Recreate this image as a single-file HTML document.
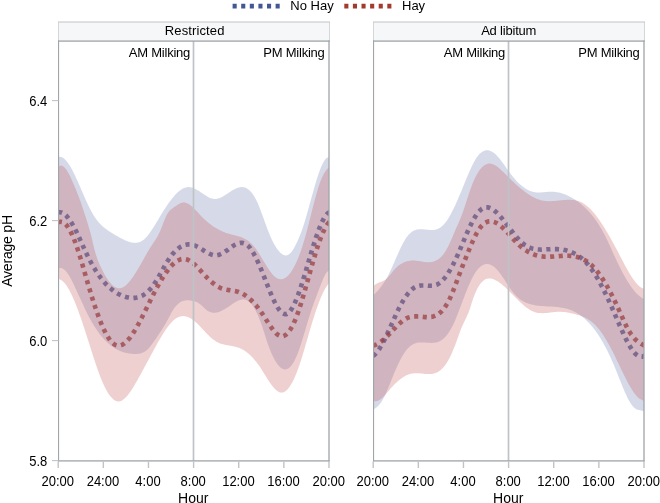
<!DOCTYPE html>
<html><head><meta charset="utf-8"><title>Average pH by Hour</title>
<style>
html,body{margin:0;padding:0;background:#fff;}
body{width:660px;height:503px;overflow:hidden;}
svg{display:block;}
text{font-family:"Liberation Sans",sans-serif;fill:#000;}
.t13{font-size:13px;}
.t14{font-size:14px;}
.ttl{letter-spacing:0.12px;}
.mk{letter-spacing:-0.23px;}
.ax{letter-spacing:-0.2px;}
</style></head><body>
<svg width="660" height="503" viewBox="0 0 660 503">
<defs><filter id="soft" x="-5%" y="-5%" width="110%" height="110%"><feGaussianBlur stdDeviation="0.6"/></filter></defs>
<rect width="660" height="503" fill="#fff"/>
<clipPath id="cl"><rect x="58.5" y="41.0" width="270.5" height="420.0"/></clipPath>
<g clip-path="url(#cl)">
<g filter="url(#soft)">
<path d="M58.0,212.5 59.0,212.3 60.0,212.3 61.0,212.4 62.0,212.7 63.0,213.2 64.0,213.8 65.0,214.6 66.0,215.5 67.0,216.6 68.0,217.7 69.0,219.0 70.0,220.4 71.0,221.9 72.0,223.6 73.0,225.3 74.0,227.1 75.0,229.0 76.0,230.9 77.0,233.0 78.0,235.1 79.0,237.2 80.0,239.4 81.0,241.6 82.0,243.8 83.0,246.1 84.0,248.3 85.0,250.5 86.0,252.6 87.0,254.7 88.0,256.7 89.0,258.7 90.0,260.6 91.0,262.5 92.0,264.3 93.0,266.1 94.0,267.8 95.0,269.4 96.0,271.0 97.0,272.5 98.0,274.0 99.0,275.4 100.0,276.8 101.0,278.2 102.0,279.4 103.0,280.7 104.0,281.8 105.0,283.0 106.0,284.1 107.0,285.1 108.0,286.1 109.0,287.1 110.0,288.0 111.0,288.8 112.0,289.6 113.0,290.4 114.0,291.2 115.0,291.9 116.0,292.5 117.0,293.1 118.0,293.7 119.0,294.2 120.0,294.7 121.0,295.2 122.0,295.6 123.0,296.0 124.0,296.4 125.0,296.7 126.0,297.0 127.0,297.2 128.0,297.4 129.0,297.6 130.0,297.8 131.0,297.9 132.0,297.9 133.0,298.0 134.0,297.9 135.0,297.9 136.0,297.7 137.0,297.5 138.0,297.3 139.0,297.0 140.0,296.7 141.0,296.2 142.0,295.8 143.0,295.2 144.0,294.6 145.0,293.9 146.0,293.2 147.0,292.4 148.0,291.5 149.0,290.5 150.0,289.4 151.0,288.3 152.0,287.1 153.0,285.8 154.0,284.4 155.0,282.9 156.0,281.3 157.0,279.7 158.0,278.0 159.0,276.2 160.0,274.4 161.0,272.6 162.0,270.8 163.0,269.0 164.0,267.2 165.0,265.4 166.0,263.7 167.0,262.0 168.0,260.4 169.0,258.9 170.0,257.5 171.0,256.1 172.0,254.8 173.0,253.6 174.0,252.5 175.0,251.4 176.0,250.4 177.0,249.5 178.0,248.7 179.0,247.9 180.0,247.3 181.0,246.6 182.0,246.1 183.0,245.6 184.0,245.3 185.0,244.9 186.0,244.7 187.0,244.5 188.0,244.4 189.0,244.4 190.0,244.4 191.0,244.5 192.0,244.7 193.0,244.9 194.0,245.2 195.0,245.6 196.0,246.0 197.0,246.5 198.0,247.0 199.0,247.6 200.0,248.2 201.0,248.8 202.0,249.4 203.0,250.0 204.0,250.7 205.0,251.3 206.0,251.9 207.0,252.5 208.0,253.0 209.0,253.5 210.0,254.0 211.0,254.4 212.0,254.7 213.0,255.0 214.0,255.2 215.0,255.3 216.0,255.3 217.0,255.3 218.0,255.1 219.0,254.8 220.0,254.4 221.0,254.0 222.0,253.5 223.0,252.9 224.0,252.3 225.0,251.7 226.0,251.0 227.0,250.3 228.0,249.6 229.0,248.8 230.0,248.1 231.0,247.4 232.0,246.7 233.0,246.0 234.0,245.4 235.0,244.8 236.0,244.3 237.0,243.8 238.0,243.5 239.0,243.2 240.0,243.0 241.0,242.9 242.0,242.9 243.0,243.0 244.0,243.3 245.0,243.6 246.0,244.2 247.0,244.9 248.0,245.7 249.0,246.8 250.0,247.9 251.0,249.3 252.0,250.7 253.0,252.4 254.0,254.1 255.0,256.0 256.0,257.9 257.0,260.0 258.0,262.1 259.0,264.4 260.0,266.7 261.0,269.1 262.0,271.5 263.0,274.0 264.0,276.6 265.0,279.1 266.0,281.7 267.0,284.2 268.0,286.7 269.0,289.2 270.0,291.7 271.0,294.0 272.0,296.4 273.0,298.6 274.0,300.7 275.0,302.8 276.0,304.7 277.0,306.4 278.0,308.0 279.0,309.5 280.0,310.8 281.0,311.9 282.0,312.8 283.0,313.5 284.0,313.9 285.0,314.1 286.0,314.1 287.0,313.8 288.0,313.2 289.0,312.4 290.0,311.3 291.0,309.9 292.0,308.4 293.0,306.6 294.0,304.7 295.0,302.5 296.0,300.2 297.0,297.7 298.0,295.1 299.0,292.3 300.0,289.4 301.0,286.4 302.0,283.3 303.0,280.2 304.0,276.9 305.0,273.6 306.0,270.3 307.0,266.9 308.0,263.6 309.0,260.2 310.0,256.8 311.0,253.5 312.0,250.2 313.0,246.9 314.0,243.7 315.0,240.6 316.0,237.6 317.0,234.7 318.0,231.9 319.0,229.2 320.0,226.7 321.0,224.3 322.0,222.1 323.0,220.1 324.0,218.2 325.0,216.6 326.0,215.2 327.0,214.0 328.0,213.1 329.0,212.5 330.0,212.1" fill="none" stroke="#445694" stroke-opacity="0.75" stroke-width="4.6" stroke-dasharray="4.1 4.5" stroke-dashoffset="0"/>
<path d="M58.0,222.5 59.0,222.0 60.0,221.8 61.0,221.7 62.0,221.9 63.0,222.3 64.0,222.9 65.0,223.7 66.0,224.7 67.0,225.8 68.0,227.2 69.0,228.8 70.0,230.5 71.0,232.4 72.0,234.5 73.0,236.8 74.0,239.2 75.0,241.7 76.0,244.4 77.0,247.3 78.0,250.2 79.0,253.3 80.0,256.6 81.0,259.9 82.0,263.2 83.0,266.7 84.0,270.1 85.0,273.6 86.0,277.1 87.0,280.6 88.0,284.0 89.0,287.4 90.0,290.7 91.0,294.0 92.0,297.2 93.0,300.4 94.0,303.5 95.0,306.5 96.0,309.5 97.0,312.3 98.0,315.1 99.0,317.8 100.0,320.4 101.0,322.9 102.0,325.2 103.0,327.5 104.0,329.7 105.0,331.7 106.0,333.7 107.0,335.4 108.0,337.1 109.0,338.6 110.0,340.0 111.0,341.3 112.0,342.4 113.0,343.3 114.0,344.1 115.0,344.7 116.0,345.2 117.0,345.5 118.0,345.6 119.0,345.6 120.0,345.5 121.0,345.2 122.0,344.8 123.0,344.3 124.0,343.7 125.0,342.9 126.0,342.0 127.0,341.1 128.0,340.0 129.0,338.8 130.0,337.6 131.0,336.2 132.0,334.8 133.0,333.3 134.0,331.7 135.0,330.1 136.0,328.4 137.0,326.6 138.0,324.8 139.0,323.0 140.0,321.1 141.0,319.2 142.0,317.2 143.0,315.2 144.0,313.2 145.0,311.2 146.0,309.2 147.0,307.2 148.0,305.1 149.0,303.1 150.0,301.1 151.0,299.1 152.0,297.1 153.0,295.1 154.0,293.2 155.0,291.3 156.0,289.4 157.0,287.5 158.0,285.7 159.0,283.9 160.0,282.2 161.0,280.5 162.0,278.8 163.0,277.2 164.0,275.6 165.0,274.1 166.0,272.6 167.0,271.3 168.0,269.9 169.0,268.6 170.0,267.4 171.0,266.3 172.0,265.2 173.0,264.2 174.0,263.3 175.0,262.5 176.0,261.7 177.0,261.0 178.0,260.5 179.0,260.0 180.0,259.6 181.0,259.2 182.0,259.0 183.0,258.9 184.0,258.9 185.0,259.0 186.0,259.2 187.0,259.5 188.0,259.9 189.0,260.4 190.0,261.0 191.0,261.7 192.0,262.4 193.0,263.2 194.0,264.0 195.0,264.9 196.0,265.9 197.0,266.9 198.0,267.9 199.0,268.9 200.0,270.0 201.0,271.1 202.0,272.2 203.0,273.3 204.0,274.4 205.0,275.5 206.0,276.5 207.0,277.6 208.0,278.6 209.0,279.6 210.0,280.5 211.0,281.4 212.0,282.3 213.0,283.2 214.0,283.9 215.0,284.7 216.0,285.4 217.0,286.1 218.0,286.7 219.0,287.2 220.0,287.7 221.0,288.2 222.0,288.6 223.0,288.9 224.0,289.2 225.0,289.4 226.0,289.6 227.0,289.8 228.0,290.0 229.0,290.1 230.0,290.2 231.0,290.4 232.0,290.5 233.0,290.6 234.0,290.8 235.0,291.0 236.0,291.2 237.0,291.5 238.0,291.7 239.0,292.1 240.0,292.5 241.0,292.9 242.0,293.4 243.0,294.0 244.0,294.5 245.0,295.2 246.0,295.9 247.0,296.6 248.0,297.4 249.0,298.2 250.0,299.1 251.0,300.0 252.0,301.0 253.0,302.0 254.0,303.1 255.0,304.2 256.0,305.3 257.0,306.6 258.0,307.8 259.0,309.1 260.0,310.5 261.0,311.8 262.0,313.3 263.0,314.8 264.0,316.3 265.0,317.8 266.0,319.4 267.0,321.0 268.0,322.5 269.0,324.1 270.0,325.6 271.0,327.0 272.0,328.4 273.0,329.8 274.0,331.0 275.0,332.1 276.0,333.2 277.0,334.1 278.0,334.8 279.0,335.4 280.0,335.9 281.0,336.2 282.0,336.3 283.0,336.2 284.0,335.8 285.0,335.3 286.0,334.7 287.0,333.8 288.0,332.7 289.0,331.5 290.0,330.0 291.0,328.4 292.0,326.6 293.0,324.7 294.0,322.6 295.0,320.3 296.0,317.9 297.0,315.3 298.0,312.6 299.0,309.7 300.0,306.6 301.0,303.5 302.0,300.2 303.0,296.9 304.0,293.5 305.0,290.0 306.0,286.4 307.0,282.9 308.0,279.3 309.0,275.7 310.0,272.2 311.0,268.6 312.0,265.1 313.0,261.7 314.0,258.3 315.0,255.0 316.0,251.8 317.0,248.6 318.0,245.6 319.0,242.7 320.0,239.9 321.0,237.2 322.0,234.7 323.0,232.4 324.0,230.2 325.0,228.2 326.0,226.4 327.0,224.8 328.0,223.5 329.0,222.3 330.0,221.4" fill="none" stroke="#A23A2E" stroke-opacity="0.75" stroke-width="4.6" stroke-dasharray="4.1 4.5" stroke-dashoffset="0"/>
</g>
<path d="M58.0,157.1 59.0,156.8 60.0,156.8 61.0,156.9 62.0,157.3 63.0,157.8 64.0,158.5 65.0,159.4 66.0,160.5 67.0,161.7 68.0,163.0 69.0,164.5 70.0,166.1 71.0,167.8 72.0,169.6 73.0,171.5 74.0,173.5 75.0,175.6 76.0,177.7 77.0,179.9 78.0,182.1 79.0,184.4 80.0,186.6 81.0,188.9 82.0,191.3 83.0,193.6 84.0,195.9 85.0,198.1 86.0,200.4 87.0,202.6 88.0,204.7 89.0,206.8 90.0,208.8 91.0,210.7 92.0,212.6 93.0,214.3 94.0,216.0 95.0,217.5 96.0,218.9 97.0,220.3 98.0,221.5 99.0,222.7 100.0,223.8 101.0,224.8 102.0,225.8 103.0,226.7 104.0,227.5 105.0,228.3 106.0,229.1 107.0,229.8 108.0,230.5 109.0,231.2 110.0,231.8 111.0,232.4 112.0,233.1 113.0,233.7 114.0,234.3 115.0,234.9 116.0,235.5 117.0,236.0 118.0,236.6 119.0,237.2 120.0,237.7 121.0,238.3 122.0,238.8 123.0,239.3 124.0,239.8 125.0,240.2 126.0,240.7 127.0,241.1 128.0,241.5 129.0,241.8 130.0,242.1 131.0,242.4 132.0,242.6 133.0,242.7 134.0,242.8 135.0,242.9 136.0,242.8 137.0,242.7 138.0,242.5 139.0,242.2 140.0,241.9 141.0,241.4 142.0,240.8 143.0,240.2 144.0,239.4 145.0,238.5 146.0,237.5 147.0,236.4 148.0,235.2 149.0,233.9 150.0,232.6 151.0,231.1 152.0,229.6 153.0,228.1 154.0,226.5 155.0,224.9 156.0,223.2 157.0,221.5 158.0,219.9 159.0,218.2 160.0,216.5 161.0,214.8 162.0,213.2 163.0,211.6 164.0,210.0 165.0,208.5 166.0,206.9 167.0,205.4 168.0,204.0 169.0,202.6 170.0,201.2 171.0,199.9 172.0,198.6 173.0,197.4 174.0,196.2 175.0,195.1 176.0,194.0 177.0,193.0 178.0,192.1 179.0,191.3 180.0,190.5 181.0,189.8 182.0,189.1 183.0,188.6 184.0,188.1 185.0,187.7 186.0,187.4 187.0,187.2 188.0,187.1 189.0,187.1 190.0,187.2 191.0,187.4 192.0,187.6 193.0,188.0 194.0,188.4 195.0,188.8 196.0,189.3 197.0,189.9 198.0,190.5 199.0,191.1 200.0,191.8 201.0,192.5 202.0,193.1 203.0,193.8 204.0,194.5 205.0,195.1 206.0,195.8 207.0,196.3 208.0,196.9 209.0,197.4 210.0,197.9 211.0,198.2 212.0,198.6 213.0,198.8 214.0,198.9 215.0,199.0 216.0,198.9 217.0,198.8 218.0,198.6 219.0,198.3 220.0,197.9 221.0,197.5 222.0,197.0 223.0,196.4 224.0,195.8 225.0,195.2 226.0,194.6 227.0,193.9 228.0,193.2 229.0,192.6 230.0,191.9 231.0,191.3 232.0,190.6 233.0,190.0 234.0,189.5 235.0,188.9 236.0,188.5 237.0,188.1 238.0,187.7 239.0,187.4 240.0,187.2 241.0,187.1 242.0,187.1 243.0,187.2 244.0,187.3 245.0,187.6 246.0,188.0 247.0,188.5 248.0,189.2 249.0,189.9 250.0,190.8 251.0,191.9 252.0,193.1 253.0,194.5 254.0,196.0 255.0,197.7 256.0,199.6 257.0,201.6 258.0,203.8 259.0,206.2 260.0,208.7 261.0,211.4 262.0,214.1 263.0,216.8 264.0,219.6 265.0,222.4 266.0,225.1 267.0,227.9 268.0,230.5 269.0,233.1 270.0,235.5 271.0,237.8 272.0,240.0 273.0,242.0 274.0,243.9 275.0,245.6 276.0,247.3 277.0,248.7 278.0,250.1 279.0,251.3 280.0,252.4 281.0,253.3 282.0,254.1 283.0,254.7 284.0,255.1 285.0,255.4 286.0,255.4 287.0,255.3 288.0,254.9 289.0,254.3 290.0,253.5 291.0,252.5 292.0,251.2 293.0,249.7 294.0,248.0 295.0,246.2 296.0,244.2 297.0,242.2 298.0,240.0 299.0,237.7 300.0,235.3 301.0,232.8 302.0,230.0 303.0,227.0 304.0,223.9 305.0,220.7 306.0,217.3 307.0,213.8 308.0,210.3 309.0,206.7 310.0,203.1 311.0,199.4 312.0,195.8 313.0,192.2 314.0,188.6 315.0,185.2 316.0,181.8 317.0,178.6 318.0,175.5 319.0,172.6 320.0,169.8 321.0,167.3 322.0,165.0 323.0,163.0 324.0,161.2 325.0,159.8 326.0,158.6 327.0,157.8 328.0,157.4 329.0,157.4 330.0,157.7 L330.0,271.4 329.0,271.0 328.0,271.2 327.0,272.0 326.0,273.3 325.0,275.0 324.0,277.1 323.0,279.3 322.0,281.8 321.0,284.3 320.0,286.8 319.0,289.3 318.0,291.9 317.0,294.5 316.0,297.2 315.0,299.9 314.0,302.6 313.0,305.4 312.0,308.3 311.0,311.3 310.0,314.4 309.0,317.5 308.0,320.8 307.0,324.1 306.0,327.5 305.0,330.9 304.0,334.2 303.0,337.5 302.0,340.8 301.0,344.0 300.0,347.0 299.0,349.9 298.0,352.7 297.0,355.2 296.0,357.5 295.0,359.6 294.0,361.5 293.0,363.2 292.0,364.7 291.0,366.0 290.0,367.0 289.0,367.9 288.0,368.6 287.0,369.0 286.0,369.3 285.0,369.4 284.0,369.3 283.0,369.0 282.0,368.6 281.0,367.9 280.0,367.1 279.0,366.1 278.0,364.9 277.0,363.6 276.0,362.1 275.0,360.4 274.0,358.6 273.0,356.6 272.0,354.5 271.0,352.2 270.0,349.7 269.0,347.1 268.0,344.4 267.0,341.5 266.0,338.4 265.0,335.3 264.0,332.1 263.0,328.9 262.0,325.9 261.0,323.1 260.0,320.4 259.0,317.9 258.0,315.5 257.0,313.3 256.0,311.3 255.0,309.4 254.0,307.7 253.0,306.2 252.0,304.8 251.0,303.6 250.0,302.6 249.0,301.7 248.0,300.9 247.0,300.3 246.0,299.9 245.0,299.6 244.0,299.5 243.0,299.4 242.0,299.5 241.0,299.7 240.0,299.9 239.0,300.3 238.0,300.7 237.0,301.2 236.0,301.7 235.0,302.3 234.0,303.0 233.0,303.6 232.0,304.3 231.0,305.0 230.0,305.7 229.0,306.4 228.0,307.0 227.0,307.7 226.0,308.3 225.0,308.9 224.0,309.5 223.0,310.1 222.0,310.6 221.0,311.1 220.0,311.5 219.0,311.9 218.0,312.2 217.0,312.4 216.0,312.6 215.0,312.7 214.0,312.8 213.0,312.7 212.0,312.6 211.0,312.3 210.0,312.0 209.0,311.6 208.0,311.0 207.0,310.4 206.0,309.6 205.0,308.7 204.0,307.8 203.0,306.8 202.0,305.8 201.0,304.9 200.0,304.1 199.0,303.4 198.0,302.8 197.0,302.2 196.0,301.8 195.0,301.4 194.0,301.1 193.0,300.9 192.0,300.7 191.0,300.5 190.0,300.4 189.0,300.3 188.0,300.2 187.0,300.2 186.0,300.3 185.0,300.4 184.0,300.7 183.0,300.9 182.0,301.3 181.0,301.8 180.0,302.4 179.0,303.1 178.0,303.9 177.0,304.9 176.0,305.9 175.0,307.1 174.0,308.5 173.0,310.0 172.0,311.7 171.0,313.5 170.0,315.4 169.0,317.3 168.0,319.2 167.0,321.0 166.0,322.8 165.0,324.5 164.0,326.2 163.0,327.8 162.0,329.4 161.0,331.0 160.0,332.5 159.0,334.0 158.0,335.5 157.0,337.0 156.0,338.4 155.0,339.9 154.0,341.3 153.0,342.7 152.0,344.1 151.0,345.5 150.0,346.7 149.0,347.9 148.0,349.0 147.0,349.9 146.0,350.7 145.0,351.4 144.0,352.0 143.0,352.5 142.0,352.9 141.0,353.2 140.0,353.5 139.0,353.7 138.0,353.8 137.0,353.9 136.0,353.9 135.0,353.9 134.0,353.9 133.0,353.9 132.0,353.8 131.0,353.7 130.0,353.6 129.0,353.5 128.0,353.3 127.0,353.1 126.0,352.9 125.0,352.6 124.0,352.4 123.0,352.1 122.0,351.7 121.0,351.3 120.0,350.9 119.0,350.5 118.0,350.0 117.0,349.5 116.0,349.0 115.0,348.4 114.0,347.7 113.0,347.1 112.0,346.4 111.0,345.6 110.0,344.8 109.0,344.0 108.0,343.1 107.0,342.2 106.0,341.2 105.0,340.2 104.0,339.2 103.0,338.0 102.0,336.9 101.0,335.7 100.0,334.4 99.0,333.1 98.0,331.7 97.0,330.3 96.0,328.8 95.0,327.3 94.0,325.7 93.0,324.1 92.0,322.4 91.0,320.6 90.0,318.8 89.0,316.9 88.0,315.0 87.0,313.0 86.0,311.0 85.0,308.9 84.0,306.7 83.0,304.6 82.0,302.4 81.0,300.2 80.0,298.1 79.0,295.9 78.0,293.7 77.0,291.5 76.0,289.3 75.0,287.2 74.0,285.1 73.0,283.0 72.0,281.1 71.0,279.1 70.0,277.3 69.0,275.6 68.0,274.0 67.0,272.6 66.0,271.3 65.0,270.3 64.0,269.4 63.0,268.7 62.0,268.2 61.0,268.0 60.0,268.1 59.0,268.4 58.0,269.1Z" fill="#445694" fill-opacity="0.22"/>
<path d="M58.0,167.0 59.0,166.2 60.0,165.7 61.0,165.6 62.0,165.8 63.0,166.2 64.0,167.0 65.0,168.0 66.0,169.3 67.0,170.7 68.0,172.4 69.0,174.2 70.0,176.1 71.0,178.2 72.0,180.4 73.0,182.7 74.0,185.0 75.0,187.4 76.0,189.8 77.0,192.4 78.0,194.9 79.0,197.6 80.0,200.3 81.0,203.1 82.0,205.9 83.0,208.9 84.0,211.9 85.0,214.9 86.0,218.1 87.0,221.3 88.0,224.5 89.0,227.9 90.0,231.3 91.0,235.0 92.0,239.1 93.0,243.4 94.0,247.7 95.0,251.6 96.0,255.0 97.0,258.0 98.0,260.7 99.0,263.1 100.0,265.4 101.0,267.6 102.0,269.6 103.0,271.6 104.0,273.5 105.0,275.3 106.0,277.0 107.0,278.6 108.0,280.0 109.0,281.4 110.0,282.6 111.0,283.8 112.0,284.8 113.0,285.7 114.0,286.4 115.0,287.1 116.0,287.6 117.0,287.9 118.0,288.2 119.0,288.3 120.0,288.2 121.0,288.0 122.0,287.7 123.0,287.2 124.0,286.7 125.0,286.0 126.0,285.2 127.0,284.2 128.0,283.2 129.0,282.1 130.0,280.9 131.0,279.6 132.0,278.3 133.0,276.9 134.0,275.4 135.0,273.8 136.0,272.3 137.0,270.6 138.0,268.9 139.0,267.2 140.0,265.5 141.0,263.7 142.0,262.0 143.0,260.2 144.0,258.4 145.0,256.6 146.0,254.9 147.0,253.1 148.0,251.4 149.0,249.7 150.0,248.1 151.0,246.5 152.0,244.9 153.0,243.4 154.0,241.9 155.0,240.5 156.0,238.9 157.0,237.3 158.0,235.6 159.0,233.6 160.0,231.4 161.0,228.9 162.0,226.4 163.0,223.8 164.0,221.3 165.0,218.8 166.0,216.6 167.0,214.5 168.0,212.8 169.0,211.4 170.0,210.3 171.0,209.5 172.0,208.7 173.0,208.1 174.0,207.3 175.0,206.6 176.0,205.9 177.0,205.2 178.0,204.5 179.0,203.9 180.0,203.4 181.0,203.0 182.0,202.7 183.0,202.5 184.0,202.5 185.0,202.6 186.0,202.9 187.0,203.2 188.0,203.7 189.0,204.3 190.0,205.0 191.0,205.8 192.0,206.6 193.0,207.5 194.0,208.5 195.0,209.5 196.0,210.5 197.0,211.6 198.0,212.6 199.0,213.7 200.0,214.8 201.0,215.9 202.0,216.9 203.0,217.9 204.0,218.9 205.0,219.8 206.0,220.7 207.0,221.6 208.0,222.5 209.0,223.3 210.0,224.1 211.0,224.8 212.0,225.5 213.0,226.2 214.0,226.9 215.0,227.5 216.0,228.1 217.0,228.7 218.0,229.3 219.0,229.8 220.0,230.3 221.0,230.8 222.0,231.3 223.0,231.7 224.0,232.1 225.0,232.5 226.0,232.9 227.0,233.2 228.0,233.5 229.0,233.8 230.0,234.1 231.0,234.4 232.0,234.6 233.0,234.9 234.0,235.1 235.0,235.4 236.0,235.6 237.0,235.9 238.0,236.2 239.0,236.5 240.0,236.8 241.0,237.1 242.0,237.5 243.0,237.9 244.0,238.4 245.0,238.9 246.0,239.5 247.0,240.1 248.0,240.8 249.0,241.5 250.0,242.4 251.0,243.3 252.0,244.2 253.0,245.3 254.0,246.5 255.0,247.7 256.0,249.1 257.0,250.5 258.0,252.0 259.0,253.6 260.0,255.2 261.0,256.8 262.0,258.5 263.0,260.2 264.0,261.8 265.0,263.5 266.0,265.1 267.0,266.7 268.0,268.3 269.0,269.8 270.0,271.2 271.0,272.6 272.0,273.8 273.0,275.0 274.0,276.0 275.0,276.9 276.0,277.6 277.0,278.2 278.0,278.7 279.0,279.0 280.0,279.2 281.0,279.3 282.0,279.2 283.0,279.0 284.0,278.6 285.0,278.1 286.0,277.4 287.0,276.6 288.0,275.7 289.0,274.6 290.0,273.4 291.0,272.0 292.0,270.5 293.0,268.8 294.0,267.0 295.0,265.1 296.0,263.0 297.0,260.8 298.0,258.4 299.0,255.9 300.0,253.2 301.0,250.4 302.0,247.4 303.0,244.3 304.0,241.1 305.0,237.7 306.0,234.1 307.0,230.5 308.0,226.6 309.0,222.7 310.0,218.8 311.0,214.8 312.0,210.8 313.0,206.8 314.0,202.9 315.0,199.1 316.0,195.4 317.0,191.9 318.0,188.5 319.0,185.4 320.0,182.5 321.0,179.9 322.0,177.6 323.0,175.5 324.0,173.6 325.0,172.0 326.0,170.5 327.0,169.3 328.0,168.2 329.0,167.3 330.0,166.6 L330.0,282.0 329.0,283.1 328.0,284.3 327.0,285.7 326.0,287.2 325.0,289.0 324.0,290.8 323.0,292.8 322.0,295.0 321.0,297.3 320.0,299.7 319.0,302.3 318.0,304.9 317.0,307.7 316.0,310.6 315.0,313.6 314.0,316.7 313.0,319.9 312.0,323.1 311.0,326.4 310.0,329.8 309.0,333.3 308.0,336.7 307.0,340.2 306.0,343.6 305.0,347.1 304.0,350.4 303.0,353.8 302.0,357.0 301.0,360.2 300.0,363.3 299.0,366.3 298.0,369.1 297.0,371.7 296.0,374.3 295.0,376.6 294.0,378.9 293.0,380.9 292.0,382.8 291.0,384.6 290.0,386.2 289.0,387.6 288.0,388.8 287.0,389.9 286.0,390.8 285.0,391.5 284.0,392.1 283.0,392.4 282.0,392.6 281.0,392.6 280.0,392.4 279.0,392.1 278.0,391.5 277.0,390.8 276.0,390.0 275.0,389.1 274.0,388.0 273.0,386.8 272.0,385.5 271.0,384.2 270.0,382.8 269.0,381.3 268.0,379.8 267.0,378.2 266.0,376.6 265.0,375.0 264.0,373.4 263.0,371.8 262.0,370.2 261.0,368.6 260.0,367.1 259.0,365.6 258.0,364.2 257.0,362.9 256.0,361.6 255.0,360.4 254.0,359.2 253.0,358.1 252.0,357.0 251.0,356.0 250.0,355.0 249.0,354.1 248.0,353.3 247.0,352.5 246.0,351.7 245.0,351.0 244.0,350.3 243.0,349.7 242.0,349.2 241.0,348.7 240.0,348.2 239.0,347.8 238.0,347.5 237.0,347.2 236.0,346.9 235.0,346.6 234.0,346.4 233.0,346.2 232.0,346.0 231.0,345.8 230.0,345.7 229.0,345.5 228.0,345.3 227.0,345.2 226.0,345.0 225.0,344.8 224.0,344.6 223.0,344.3 222.0,344.0 221.0,343.7 220.0,343.4 219.0,343.0 218.0,342.5 217.0,342.0 216.0,341.5 215.0,340.8 214.0,340.1 213.0,339.4 212.0,338.6 211.0,337.7 210.0,336.8 209.0,335.8 208.0,334.8 207.0,333.8 206.0,332.7 205.0,331.7 204.0,330.6 203.0,329.5 202.0,328.4 201.0,327.4 200.0,326.3 199.0,325.3 198.0,324.3 197.0,323.3 196.0,322.4 195.0,321.5 194.0,320.7 193.0,319.9 192.0,319.2 191.0,318.5 190.0,317.9 189.0,317.4 188.0,317.0 187.0,316.7 186.0,316.4 185.0,316.2 184.0,316.1 183.0,316.1 182.0,316.2 181.0,316.3 180.0,316.6 179.0,316.9 178.0,317.3 177.0,317.8 176.0,318.4 175.0,319.1 174.0,319.9 173.0,320.8 172.0,321.8 171.0,322.9 170.0,324.0 169.0,325.2 168.0,326.5 167.0,327.9 166.0,329.3 165.0,330.8 164.0,332.3 163.0,333.9 162.0,335.5 161.0,337.2 160.0,338.9 159.0,340.6 158.0,342.3 157.0,344.1 156.0,345.9 155.0,347.7 154.0,349.6 153.0,351.4 152.0,353.2 151.0,355.1 150.0,357.0 149.0,358.8 148.0,360.7 147.0,362.6 146.0,364.4 145.0,366.3 144.0,368.1 143.0,370.0 142.0,371.8 141.0,373.7 140.0,375.5 139.0,377.3 138.0,379.1 137.0,380.9 136.0,382.6 135.0,384.3 134.0,386.0 133.0,387.7 132.0,389.2 131.0,390.8 130.0,392.2 129.0,393.6 128.0,394.9 127.0,396.1 126.0,397.2 125.0,398.1 124.0,399.0 123.0,399.8 122.0,400.4 121.0,400.9 120.0,401.2 119.0,401.4 118.0,401.4 117.0,401.3 116.0,400.9 115.0,400.5 114.0,399.9 113.0,399.1 112.0,398.1 111.0,397.0 110.0,395.8 109.0,394.4 108.0,392.9 107.0,391.3 106.0,389.5 105.0,387.5 104.0,385.5 103.0,383.3 102.0,380.9 101.0,378.5 100.0,375.9 99.0,373.3 98.0,370.5 97.0,367.7 96.0,364.8 95.0,361.8 94.0,358.8 93.0,355.7 92.0,352.6 91.0,349.4 90.0,346.3 89.0,343.1 88.0,340.0 87.0,336.8 86.0,333.7 85.0,330.6 84.0,327.5 83.0,324.5 82.0,321.5 81.0,318.6 80.0,315.7 79.0,312.9 78.0,310.1 77.0,307.5 76.0,304.9 75.0,302.4 74.0,300.0 73.0,297.7 72.0,295.5 71.0,293.4 70.0,291.4 69.0,289.6 68.0,287.9 67.0,286.3 66.0,284.8 65.0,283.5 64.0,282.4 63.0,281.4 62.0,280.5 61.0,279.9 60.0,279.4 59.0,279.1 58.0,279.0Z" fill="#c14343" fill-opacity="0.25"/>
</g>
<rect x="192.65" y="41.0" width="1.7" height="420.0" fill="#bfc3c7"/>
<rect x="58.5" y="22" width="271" height="19" fill="#f6f7f9"/>
<path d="M58.5,41 V22 M329.5,22 V41" fill="none" stroke="#d5d6d8" stroke-width="1"/>
<path d="M58,22 H330" fill="none" stroke="#c2c3c6" stroke-width="1"/>
<rect x="58.00" y="40.45" width="1.1" height="421.10" fill="#9fa5a9"/>
<rect x="328.35" y="40.45" width="1.3" height="421.10" fill="#9fa5a9"/>
<rect x="58.00" y="40.45" width="271.65" height="1.3" fill="#9fa5a9"/>
<rect x="58.00" y="460.25" width="271.65" height="1.3" fill="#9fa5a9"/>
<rect x="57.50" y="461.50" width="1.4" height="6.5" fill="#c0c4c9"/>
<rect x="102.63" y="461.50" width="1.4" height="6.5" fill="#c0c4c9"/>
<rect x="147.76" y="461.50" width="1.4" height="6.5" fill="#c0c4c9"/>
<rect x="192.89" y="461.50" width="1.4" height="6.5" fill="#c0c4c9"/>
<rect x="238.02" y="461.50" width="1.4" height="6.5" fill="#c0c4c9"/>
<rect x="283.15" y="461.50" width="1.4" height="6.5" fill="#c0c4c9"/>
<rect x="328.28" y="461.50" width="1.4" height="6.5" fill="#c0c4c9"/>
<text transform="translate(57.7,485.5) scale(1,1.07)" text-anchor="middle" class="t13">20:00</text>
<text transform="translate(102.9,485.5) scale(1,1.07)" text-anchor="middle" class="t13">24:00</text>
<text transform="translate(148.0,485.5) scale(1,1.07)" text-anchor="middle" class="t13">4:00</text>
<text transform="translate(193.2,485.5) scale(1,1.07)" text-anchor="middle" class="t13">8:00</text>
<text transform="translate(238.4,485.5) scale(1,1.07)" text-anchor="middle" class="t13">12:00</text>
<text transform="translate(283.5,485.5) scale(1,1.07)" text-anchor="middle" class="t13">16:00</text>
<text transform="translate(328.7,485.5) scale(1,1.07)" text-anchor="middle" class="t13">20:00</text>
<text x="193.3" y="502.5" text-anchor="middle" class="t14">Hour</text>
<text x="194.7" y="35.3" text-anchor="middle" class="t13" style="letter-spacing:0.12px">Restricted</text>
<text x="190.1" y="56.8" text-anchor="end" class="t13 mk">AM Milking</text>
<text x="324.6" y="56.8" text-anchor="end" class="t13 mk">PM Milking</text>
<clipPath id="cr"><rect x="373.5" y="41.0" width="270.5" height="420.0"/></clipPath>
<g clip-path="url(#cr)">
<g filter="url(#soft)">
<path d="M373.0,355.9 374.0,355.2 375.0,354.3 376.0,353.3 377.0,352.1 378.0,350.8 379.0,349.4 380.0,347.8 381.0,346.1 382.0,344.4 383.0,342.5 384.0,340.6 385.0,338.6 386.0,336.5 387.0,334.4 388.0,332.2 389.0,330.0 390.0,327.8 391.0,325.6 392.0,323.3 393.0,321.1 394.0,318.9 395.0,316.7 396.0,314.5 397.0,312.4 398.0,310.3 399.0,308.3 400.0,306.3 401.0,304.5 402.0,302.7 403.0,300.9 404.0,299.3 405.0,297.7 406.0,296.3 407.0,294.9 408.0,293.6 409.0,292.4 410.0,291.3 411.0,290.2 412.0,289.3 413.0,288.5 414.0,287.8 415.0,287.2 416.0,286.7 417.0,286.3 418.0,286.0 419.0,285.8 420.0,285.6 421.0,285.5 422.0,285.5 423.0,285.5 424.0,285.5 425.0,285.5 426.0,285.6 427.0,285.6 428.0,285.7 429.0,285.7 430.0,285.7 431.0,285.7 432.0,285.7 433.0,285.6 434.0,285.4 435.0,285.2 436.0,284.8 437.0,284.5 438.0,284.0 439.0,283.4 440.0,282.7 441.0,281.9 442.0,280.9 443.0,279.9 444.0,278.8 445.0,277.6 446.0,276.3 447.0,274.9 448.0,273.4 449.0,271.8 450.0,270.2 451.0,268.4 452.0,266.6 453.0,264.7 454.0,262.7 455.0,260.7 456.0,258.6 457.0,256.4 458.0,254.2 459.0,251.9 460.0,249.6 461.0,247.2 462.0,244.8 463.0,242.4 464.0,240.1 465.0,237.7 466.0,235.3 467.0,233.0 468.0,230.8 469.0,228.6 470.0,226.4 471.0,224.4 472.0,222.4 473.0,220.5 474.0,218.7 475.0,217.0 476.0,215.5 477.0,214.0 478.0,212.7 479.0,211.5 480.0,210.5 481.0,209.6 482.0,208.8 483.0,208.3 484.0,207.8 485.0,207.5 486.0,207.4 487.0,207.4 488.0,207.4 489.0,207.7 490.0,208.0 491.0,208.4 492.0,209.0 493.0,209.6 494.0,210.3 495.0,211.1 496.0,212.0 497.0,212.9 498.0,213.9 499.0,215.0 500.0,216.1 501.0,217.2 502.0,218.4 503.0,219.7 504.0,220.9 505.0,222.2 506.0,223.5 507.0,224.8 508.0,226.1 509.0,227.4 510.0,228.7 511.0,230.0 512.0,231.3 513.0,232.6 514.0,233.9 515.0,235.1 516.0,236.3 517.0,237.5 518.0,238.6 519.0,239.7 520.0,240.8 521.0,241.7 522.0,242.7 523.0,243.5 524.0,244.3 525.0,245.1 526.0,245.7 527.0,246.3 528.0,246.9 529.0,247.3 530.0,247.7 531.0,248.1 532.0,248.4 533.0,248.7 534.0,248.9 535.0,249.1 536.0,249.3 537.0,249.4 538.0,249.5 539.0,249.5 540.0,249.5 541.0,249.6 542.0,249.5 543.0,249.5 544.0,249.5 545.0,249.4 546.0,249.4 547.0,249.3 548.0,249.3 549.0,249.2 550.0,249.2 551.0,249.1 552.0,249.1 553.0,249.1 554.0,249.1 555.0,249.1 556.0,249.1 557.0,249.1 558.0,249.2 559.0,249.3 560.0,249.3 561.0,249.4 562.0,249.6 563.0,249.7 564.0,249.9 565.0,250.1 566.0,250.3 567.0,250.6 568.0,250.9 569.0,251.2 570.0,251.5 571.0,251.9 572.0,252.3 573.0,252.8 574.0,253.2 575.0,253.8 576.0,254.3 577.0,254.9 578.0,255.6 579.0,256.3 580.0,257.0 581.0,257.8 582.0,258.6 583.0,259.5 584.0,260.4 585.0,261.4 586.0,262.4 587.0,263.5 588.0,264.6 589.0,265.8 590.0,267.1 591.0,268.4 592.0,269.8 593.0,271.2 594.0,272.7 595.0,274.2 596.0,275.8 597.0,277.5 598.0,279.2 599.0,281.0 600.0,282.8 601.0,284.7 602.0,286.6 603.0,288.6 604.0,290.6 605.0,292.6 606.0,294.7 607.0,296.8 608.0,298.9 609.0,301.1 610.0,303.3 611.0,305.5 612.0,307.7 613.0,310.0 614.0,312.3 615.0,314.6 616.0,316.9 617.0,319.2 618.0,321.5 619.0,323.8 620.0,326.1 621.0,328.4 622.0,330.6 623.0,332.8 624.0,335.0 625.0,337.1 626.0,339.1 627.0,341.1 628.0,343.0 629.0,344.8 630.0,346.5 631.0,348.1 632.0,349.6 633.0,350.9 634.0,352.2 635.0,353.3 636.0,354.3 637.0,355.1 638.0,355.8 639.0,356.3 640.0,356.6 641.0,356.7 642.0,356.7 643.0,356.4 644.0,356.0 645.0,355.3" fill="none" stroke="#445694" stroke-opacity="0.75" stroke-width="4.6" stroke-dasharray="4.1 4.5" stroke-dashoffset="0"/>
<path d="M373.0,345.5 374.0,345.3 375.0,345.0 376.0,344.7 377.0,344.2 378.0,343.7 379.0,343.1 380.0,342.4 381.0,341.7 382.0,340.9 383.0,340.1 384.0,339.2 385.0,338.3 386.0,337.4 387.0,336.4 388.0,335.4 389.0,334.3 390.0,333.3 391.0,332.2 392.0,331.2 393.0,330.1 394.0,329.0 395.0,328.0 396.0,326.9 397.0,325.9 398.0,325.0 399.0,324.0 400.0,323.1 401.0,322.2 402.0,321.4 403.0,320.6 404.0,319.9 405.0,319.2 406.0,318.6 407.0,318.1 408.0,317.7 409.0,317.3 410.0,317.0 411.0,316.8 412.0,316.6 413.0,316.5 414.0,316.4 415.0,316.4 416.0,316.4 417.0,316.4 418.0,316.5 419.0,316.5 420.0,316.6 421.0,316.7 422.0,316.8 423.0,316.9 424.0,317.0 425.0,317.1 426.0,317.1 427.0,317.2 428.0,317.2 429.0,317.1 430.0,317.1 431.0,316.9 432.0,316.8 433.0,316.5 434.0,316.2 435.0,315.8 436.0,315.4 437.0,314.9 438.0,314.3 439.0,313.6 440.0,312.8 441.0,311.8 442.0,310.8 443.0,309.7 444.0,308.5 445.0,307.1 446.0,305.6 447.0,303.9 448.0,302.2 449.0,300.2 450.0,298.2 451.0,295.9 452.0,293.6 453.0,291.2 454.0,288.6 455.0,286.0 456.0,283.4 457.0,280.7 458.0,278.0 459.0,275.3 460.0,272.7 461.0,270.0 462.0,267.4 463.0,264.9 464.0,262.3 465.0,259.8 466.0,257.3 467.0,254.8 468.0,252.3 469.0,249.9 470.0,247.5 471.0,245.2 472.0,242.9 473.0,240.6 474.0,238.5 475.0,236.4 476.0,234.5 477.0,232.6 478.0,230.9 479.0,229.3 480.0,227.9 481.0,226.6 482.0,225.5 483.0,224.5 484.0,223.6 485.0,222.9 486.0,222.4 487.0,221.9 488.0,221.6 489.0,221.4 490.0,221.3 491.0,221.3 492.0,221.4 493.0,221.6 494.0,221.9 495.0,222.3 496.0,222.7 497.0,223.3 498.0,223.9 499.0,224.6 500.0,225.4 501.0,226.2 502.0,227.1 503.0,228.0 504.0,229.0 505.0,230.0 506.0,231.0 507.0,232.1 508.0,233.2 509.0,234.3 510.0,235.4 511.0,236.5 512.0,237.6 513.0,238.8 514.0,239.9 515.0,240.9 516.0,242.0 517.0,243.0 518.0,244.0 519.0,245.0 520.0,245.9 521.0,246.8 522.0,247.6 523.0,248.4 524.0,249.1 525.0,249.9 526.0,250.5 527.0,251.1 528.0,251.7 529.0,252.3 530.0,252.8 531.0,253.3 532.0,253.7 533.0,254.1 534.0,254.5 535.0,254.8 536.0,255.2 537.0,255.4 538.0,255.7 539.0,255.9 540.0,256.1 541.0,256.3 542.0,256.4 543.0,256.5 544.0,256.6 545.0,256.7 546.0,256.7 547.0,256.7 548.0,256.7 549.0,256.7 550.0,256.7 551.0,256.6 552.0,256.6 553.0,256.5 554.0,256.5 555.0,256.4 556.0,256.3 557.0,256.3 558.0,256.2 559.0,256.1 560.0,256.0 561.0,256.0 562.0,255.9 563.0,255.8 564.0,255.8 565.0,255.8 566.0,255.8 567.0,255.8 568.0,255.8 569.0,255.8 570.0,255.9 571.0,255.9 572.0,256.0 573.0,256.2 574.0,256.3 575.0,256.5 576.0,256.7 577.0,256.9 578.0,257.2 579.0,257.5 580.0,257.9 581.0,258.3 582.0,258.7 583.0,259.2 584.0,259.7 585.0,260.3 586.0,260.9 587.0,261.5 588.0,262.3 589.0,263.0 590.0,263.9 591.0,264.7 592.0,265.7 593.0,266.7 594.0,267.7 595.0,268.8 596.0,270.0 597.0,271.2 598.0,272.5 599.0,273.8 600.0,275.2 601.0,276.6 602.0,278.1 603.0,279.6 604.0,281.2 605.0,282.8 606.0,284.5 607.0,286.2 608.0,288.0 609.0,289.8 610.0,291.6 611.0,293.5 612.0,295.5 613.0,297.4 614.0,299.5 615.0,301.5 616.0,303.6 617.0,305.7 618.0,307.9 619.0,310.1 620.0,312.4 621.0,314.6 622.0,316.8 623.0,319.0 624.0,321.2 625.0,323.3 626.0,325.4 627.0,327.4 628.0,329.2 629.0,331.0 630.0,332.6 631.0,334.2 632.0,335.5 633.0,336.8 634.0,338.0 635.0,339.1 636.0,340.0 637.0,340.9 638.0,341.7 639.0,342.5 640.0,343.1 641.0,343.7 642.0,344.3 643.0,344.8 644.0,345.3 645.0,345.7" fill="none" stroke="#A23A2E" stroke-opacity="0.75" stroke-width="4.6" stroke-dasharray="4.1 4.5" stroke-dashoffset="0"/>
</g>
<path d="M373.0,295.7 374.0,294.7 375.0,293.7 376.0,292.6 377.0,291.6 378.0,290.4 379.0,289.3 380.0,288.1 381.0,286.8 382.0,285.4 383.0,284.0 384.0,282.5 385.0,281.0 386.0,279.3 387.0,277.5 388.0,275.7 389.0,273.7 390.0,271.7 391.0,269.6 392.0,267.4 393.0,265.1 394.0,262.9 395.0,260.6 396.0,258.3 397.0,256.0 398.0,253.7 399.0,251.5 400.0,249.3 401.0,247.2 402.0,245.2 403.0,243.2 404.0,241.4 405.0,239.7 406.0,238.1 407.0,236.7 408.0,235.5 409.0,234.3 410.0,233.4 411.0,232.5 412.0,231.8 413.0,231.1 414.0,230.6 415.0,230.2 416.0,229.8 417.0,229.6 418.0,229.4 419.0,229.3 420.0,229.2 421.0,229.2 422.0,229.2 423.0,229.3 424.0,229.4 425.0,229.5 426.0,229.6 427.0,229.7 428.0,229.8 429.0,229.9 430.0,230.0 431.0,230.0 432.0,230.0 433.0,230.0 434.0,229.9 435.0,229.7 436.0,229.5 437.0,229.2 438.0,228.8 439.0,228.3 440.0,227.8 441.0,227.1 442.0,226.3 443.0,225.3 444.0,224.3 445.0,223.1 446.0,221.8 447.0,220.4 448.0,218.9 449.0,217.2 450.0,215.5 451.0,213.7 452.0,211.8 453.0,209.8 454.0,207.8 455.0,205.7 456.0,203.5 457.0,201.2 458.0,199.0 459.0,196.6 460.0,194.3 461.0,191.9 462.0,189.4 463.0,187.0 464.0,184.5 465.0,182.1 466.0,179.6 467.0,177.2 468.0,174.8 469.0,172.5 470.0,170.2 471.0,168.0 472.0,165.9 473.0,163.9 474.0,162.0 475.0,160.2 476.0,158.6 477.0,157.1 478.0,155.8 479.0,154.6 480.0,153.6 481.0,152.7 482.0,151.9 483.0,151.3 484.0,150.9 485.0,150.5 486.0,150.3 487.0,150.3 488.0,150.3 489.0,150.5 490.0,150.8 491.0,151.2 492.0,151.7 493.0,152.3 494.0,153.0 495.0,153.8 496.0,154.7 497.0,155.8 498.0,156.9 499.0,158.0 500.0,159.3 501.0,160.5 502.0,161.9 503.0,163.2 504.0,164.6 505.0,166.0 506.0,167.5 507.0,168.9 508.0,170.3 509.0,171.7 510.0,173.0 511.0,174.4 512.0,175.6 513.0,176.9 514.0,178.1 515.0,179.2 516.0,180.3 517.0,181.4 518.0,182.4 519.0,183.4 520.0,184.3 521.0,185.2 522.0,186.0 523.0,186.8 524.0,187.5 525.0,188.2 526.0,188.8 527.0,189.4 528.0,190.0 529.0,190.4 530.0,190.9 531.0,191.3 532.0,191.6 533.0,191.9 534.0,192.1 535.0,192.2 536.0,192.4 537.0,192.4 538.0,192.5 539.0,192.5 540.0,192.5 541.0,192.4 542.0,192.3 543.0,192.2 544.0,192.2 545.0,192.1 546.0,192.0 547.0,191.9 548.0,191.8 549.0,191.7 550.0,191.7 551.0,191.7 552.0,191.7 553.0,191.8 554.0,191.8 555.0,191.9 556.0,192.1 557.0,192.2 558.0,192.4 559.0,192.6 560.0,192.8 561.0,193.1 562.0,193.4 563.0,193.7 564.0,194.0 565.0,194.4 566.0,194.8 567.0,195.2 568.0,195.7 569.0,196.2 570.0,196.7 571.0,197.2 572.0,197.8 573.0,198.4 574.0,199.0 575.0,199.6 576.0,200.3 577.0,201.0 578.0,201.7 579.0,202.5 580.0,203.3 581.0,204.1 582.0,205.0 583.0,205.9 584.0,206.8 585.0,207.7 586.0,208.7 587.0,209.7 588.0,210.7 589.0,211.8 590.0,212.9 591.0,214.1 592.0,215.3 593.0,216.5 594.0,217.8 595.0,219.2 596.0,220.6 597.0,222.0 598.0,223.5 599.0,225.1 600.0,226.7 601.0,228.4 602.0,230.1 603.0,231.9 604.0,233.8 605.0,235.7 606.0,237.7 607.0,239.7 608.0,241.8 609.0,244.0 610.0,246.1 611.0,248.3 612.0,250.5 613.0,252.7 614.0,254.9 615.0,257.1 616.0,259.3 617.0,261.4 618.0,263.5 619.0,265.6 620.0,267.6 621.0,269.6 622.0,271.5 623.0,273.4 624.0,275.3 625.0,277.0 626.0,278.8 627.0,280.5 628.0,282.1 629.0,283.6 630.0,285.1 631.0,286.6 632.0,288.0 633.0,289.3 634.0,290.5 635.0,291.7 636.0,292.8 637.0,293.9 638.0,294.8 639.0,295.7 640.0,296.5 641.0,297.3 642.0,297.9 643.0,298.5 644.0,299.0 645.0,299.4 L645.0,411.5 644.0,411.2 643.0,410.9 642.0,410.7 641.0,410.5 640.0,410.3 639.0,410.1 638.0,409.8 637.0,409.4 636.0,408.9 635.0,408.2 634.0,407.4 633.0,406.4 632.0,405.2 631.0,403.8 630.0,402.3 629.0,400.5 628.0,398.7 627.0,396.7 626.0,394.6 625.0,392.4 624.0,390.1 623.0,387.7 622.0,385.3 621.0,382.8 620.0,380.3 619.0,377.8 618.0,375.2 617.0,372.7 616.0,370.2 615.0,367.7 614.0,365.3 613.0,363.0 612.0,360.7 611.0,358.5 610.0,356.3 609.0,354.2 608.0,352.1 607.0,350.1 606.0,348.1 605.0,346.3 604.0,344.4 603.0,342.6 602.0,340.9 601.0,339.2 600.0,337.6 599.0,336.0 598.0,334.5 597.0,333.0 596.0,331.6 595.0,330.2 594.0,328.9 593.0,327.6 592.0,326.4 591.0,325.2 590.0,324.0 589.0,323.0 588.0,321.9 587.0,320.9 586.0,319.9 585.0,319.0 584.0,318.1 583.0,317.3 582.0,316.5 581.0,315.7 580.0,315.0 579.0,314.3 578.0,313.7 577.0,313.1 576.0,312.5 575.0,311.9 574.0,311.4 573.0,311.0 572.0,310.5 571.0,310.1 570.0,309.8 569.0,309.4 568.0,309.1 567.0,308.8 566.0,308.5 565.0,308.3 564.0,308.1 563.0,307.9 562.0,307.7 561.0,307.5 560.0,307.4 559.0,307.2 558.0,307.1 557.0,307.0 556.0,306.9 555.0,306.8 554.0,306.8 553.0,306.7 552.0,306.6 551.0,306.6 550.0,306.5 549.0,306.5 548.0,306.4 547.0,306.4 546.0,306.3 545.0,306.3 544.0,306.2 543.0,306.1 542.0,306.1 541.0,306.0 540.0,305.9 539.0,305.8 538.0,305.7 537.0,305.5 536.0,305.4 535.0,305.2 534.0,305.0 533.0,304.8 532.0,304.6 531.0,304.4 530.0,304.1 529.0,303.8 528.0,303.5 527.0,303.1 526.0,302.7 525.0,302.2 524.0,301.7 523.0,301.2 522.0,300.6 521.0,299.9 520.0,299.2 519.0,298.4 518.0,297.6 517.0,296.7 516.0,295.7 515.0,294.6 514.0,293.5 513.0,292.3 512.0,291.0 511.0,289.6 510.0,288.2 509.0,286.7 508.0,285.2 507.0,283.7 506.0,282.2 505.0,280.6 504.0,279.1 503.0,277.6 502.0,276.2 501.0,274.7 500.0,273.3 499.0,272.0 498.0,270.8 497.0,269.7 496.0,268.6 495.0,267.7 494.0,266.8 493.0,266.1 492.0,265.4 491.0,264.9 490.0,264.5 489.0,264.2 488.0,264.1 487.0,264.0 486.0,264.1 485.0,264.2 484.0,264.5 483.0,265.0 482.0,265.5 481.0,266.2 480.0,267.0 479.0,268.0 478.0,269.1 477.0,270.3 476.0,271.6 475.0,273.1 474.0,274.8 473.0,276.6 472.0,278.5 471.0,280.5 470.0,282.7 469.0,285.0 468.0,287.3 467.0,289.7 466.0,292.2 465.0,294.8 464.0,297.4 463.0,300.0 462.0,302.7 461.0,305.3 460.0,308.0 459.0,310.6 458.0,313.2 457.0,315.8 456.0,318.3 455.0,320.7 454.0,322.9 453.0,325.0 452.0,327.0 451.0,328.8 450.0,330.6 449.0,332.1 448.0,333.6 447.0,334.9 446.0,336.1 445.0,337.2 444.0,338.2 443.0,339.0 442.0,339.8 441.0,340.4 440.0,341.0 439.0,341.5 438.0,341.9 437.0,342.2 436.0,342.4 435.0,342.6 434.0,342.7 433.0,342.8 432.0,342.9 431.0,342.9 430.0,342.8 429.0,342.8 428.0,342.7 427.0,342.7 426.0,342.6 425.0,342.5 424.0,342.4 423.0,342.4 422.0,342.4 421.0,342.4 420.0,342.4 419.0,342.5 418.0,342.6 417.0,342.8 416.0,343.1 415.0,343.4 414.0,343.8 413.0,344.3 412.0,344.9 411.0,345.5 410.0,346.3 409.0,347.2 408.0,348.2 407.0,349.3 406.0,350.5 405.0,351.9 404.0,353.4 403.0,355.0 402.0,356.7 401.0,358.5 400.0,360.5 399.0,362.5 398.0,364.6 397.0,366.7 396.0,369.0 395.0,371.3 394.0,373.6 393.0,376.0 392.0,378.4 391.0,380.9 390.0,383.4 389.0,385.9 388.0,388.4 387.0,390.8 386.0,393.2 385.0,395.4 384.0,397.4 383.0,399.2 382.0,400.9 381.0,402.4 380.0,403.7 379.0,404.9 378.0,406.0 377.0,406.9 376.0,407.7 375.0,408.4 374.0,409.0 373.0,409.5Z" fill="#445694" fill-opacity="0.22"/>
<path d="M373.0,286.5 374.0,285.6 375.0,284.8 376.0,284.1 377.0,283.5 378.0,283.1 379.0,282.6 380.0,282.2 381.0,281.9 382.0,281.5 383.0,281.0 384.0,280.5 385.0,279.9 386.0,279.2 387.0,278.4 388.0,277.3 389.0,276.2 390.0,275.0 391.0,273.7 392.0,272.4 393.0,271.2 394.0,270.0 395.0,268.9 396.0,267.9 397.0,267.0 398.0,266.1 399.0,265.3 400.0,264.6 401.0,264.0 402.0,263.4 403.0,262.8 404.0,262.4 405.0,262.0 406.0,261.6 407.0,261.3 408.0,261.1 409.0,260.9 410.0,260.7 411.0,260.6 412.0,260.6 413.0,260.6 414.0,260.6 415.0,260.6 416.0,260.7 417.0,260.8 418.0,261.0 419.0,261.1 420.0,261.3 421.0,261.4 422.0,261.6 423.0,261.8 424.0,261.9 425.0,262.0 426.0,262.1 427.0,262.2 428.0,262.3 429.0,262.3 430.0,262.2 431.0,262.1 432.0,261.9 433.0,261.7 434.0,261.4 435.0,261.1 436.0,260.6 437.0,260.1 438.0,259.4 439.0,258.7 440.0,257.9 441.0,256.9 442.0,255.9 443.0,254.7 444.0,253.4 445.0,251.9 446.0,250.4 447.0,248.6 448.0,246.8 449.0,244.7 450.0,242.6 451.0,240.3 452.0,238.0 453.0,235.7 454.0,233.3 455.0,230.9 456.0,228.6 457.0,226.4 458.0,224.2 459.0,221.9 460.0,219.6 461.0,217.1 462.0,214.5 463.0,211.7 464.0,208.8 465.0,205.8 466.0,202.7 467.0,199.6 468.0,196.5 469.0,193.5 470.0,190.6 471.0,187.7 472.0,185.1 473.0,182.6 474.0,180.2 475.0,178.1 476.0,176.1 477.0,174.2 478.0,172.5 479.0,171.0 480.0,169.6 481.0,168.4 482.0,167.3 483.0,166.4 484.0,165.6 485.0,164.9 486.0,164.4 487.0,164.0 488.0,163.7 489.0,163.6 490.0,163.5 491.0,163.7 492.0,163.9 493.0,164.2 494.0,164.7 495.0,165.2 496.0,165.8 497.0,166.5 498.0,167.3 499.0,168.1 500.0,169.0 501.0,169.9 502.0,170.9 503.0,171.8 504.0,172.8 505.0,173.8 506.0,174.8 507.0,175.8 508.0,176.8 509.0,177.8 510.0,178.7 511.0,179.7 512.0,180.7 513.0,181.6 514.0,182.5 515.0,183.5 516.0,184.4 517.0,185.3 518.0,186.2 519.0,187.0 520.0,187.9 521.0,188.7 522.0,189.5 523.0,190.3 524.0,191.1 525.0,191.9 526.0,192.6 527.0,193.3 528.0,194.0 529.0,194.7 530.0,195.3 531.0,195.9 532.0,196.5 533.0,197.0 534.0,197.5 535.0,198.0 536.0,198.5 537.0,198.9 538.0,199.3 539.0,199.6 540.0,199.9 541.0,200.2 542.0,200.5 543.0,200.7 544.0,200.8 545.0,200.9 546.0,201.1 547.0,201.1 548.0,201.2 549.0,201.2 550.0,201.2 551.0,201.2 552.0,201.1 553.0,201.1 554.0,201.0 555.0,200.9 556.0,200.8 557.0,200.7 558.0,200.6 559.0,200.5 560.0,200.4 561.0,200.3 562.0,200.2 563.0,200.1 564.0,200.0 565.0,199.9 566.0,199.9 567.0,199.8 568.0,199.8 569.0,199.8 570.0,199.8 571.0,199.8 572.0,199.9 573.0,200.0 574.0,200.1 575.0,200.3 576.0,200.5 577.0,200.7 578.0,201.0 579.0,201.3 580.0,201.7 581.0,202.1 582.0,202.6 583.0,203.2 584.0,203.8 585.0,204.5 586.0,205.2 587.0,206.0 588.0,206.9 589.0,207.8 590.0,208.7 591.0,209.8 592.0,210.8 593.0,211.9 594.0,213.1 595.0,214.3 596.0,215.6 597.0,216.9 598.0,218.2 599.0,219.6 600.0,221.1 601.0,222.5 602.0,224.0 603.0,225.6 604.0,227.2 605.0,228.8 606.0,230.4 607.0,232.1 608.0,233.8 609.0,235.5 610.0,237.3 611.0,239.1 612.0,240.9 613.0,242.7 614.0,244.5 615.0,246.4 616.0,248.2 617.0,250.1 618.0,252.0 619.0,254.0 620.0,255.9 621.0,257.8 622.0,259.7 623.0,261.6 624.0,263.5 625.0,265.4 626.0,267.2 627.0,269.0 628.0,270.8 629.0,272.5 630.0,274.2 631.0,275.8 632.0,277.4 633.0,278.8 634.0,280.2 635.0,281.6 636.0,282.8 637.0,283.9 638.0,284.9 639.0,285.9 640.0,286.7 641.0,287.4 642.0,288.0 643.0,288.4 644.0,288.7 645.0,288.9 L645.0,400.5 644.0,400.5 643.0,400.4 642.0,400.1 641.0,399.6 640.0,399.0 639.0,398.3 638.0,397.4 637.0,396.4 636.0,395.3 635.0,394.0 634.0,392.7 633.0,391.3 632.0,389.8 631.0,388.1 630.0,386.5 629.0,384.7 628.0,382.9 627.0,381.0 626.0,379.1 625.0,377.1 624.0,375.1 623.0,373.0 622.0,370.9 621.0,368.9 620.0,366.8 619.0,364.6 618.0,362.5 617.0,360.4 616.0,358.4 615.0,356.3 614.0,354.3 613.0,352.3 612.0,350.3 611.0,348.4 610.0,346.5 609.0,344.7 608.0,342.9 607.0,341.2 606.0,339.5 605.0,337.9 604.0,336.3 603.0,334.8 602.0,333.3 601.0,331.9 600.0,330.5 599.0,329.2 598.0,328.0 597.0,326.9 596.0,325.8 595.0,324.8 594.0,323.8 593.0,322.9 592.0,322.1 591.0,321.3 590.0,320.6 589.0,319.9 588.0,319.3 587.0,318.7 586.0,318.1 585.0,317.6 584.0,317.2 583.0,316.7 582.0,316.3 581.0,315.9 580.0,315.6 579.0,315.3 578.0,315.0 577.0,314.7 576.0,314.4 575.0,314.1 574.0,313.9 573.0,313.6 572.0,313.4 571.0,313.2 570.0,313.0 569.0,312.8 568.0,312.6 567.0,312.4 566.0,312.3 565.0,312.1 564.0,312.0 563.0,311.9 562.0,311.9 561.0,311.8 560.0,311.8 559.0,311.8 558.0,311.8 557.0,311.8 556.0,311.9 555.0,312.0 554.0,312.1 553.0,312.2 552.0,312.3 551.0,312.4 550.0,312.6 549.0,312.7 548.0,312.8 547.0,312.9 546.0,313.0 545.0,313.1 544.0,313.1 543.0,313.2 542.0,313.2 541.0,313.1 540.0,313.1 539.0,313.0 538.0,312.9 537.0,312.7 536.0,312.5 535.0,312.2 534.0,311.8 533.0,311.5 532.0,311.0 531.0,310.5 530.0,309.9 529.0,309.3 528.0,308.6 527.0,307.9 526.0,307.2 525.0,306.4 524.0,305.6 523.0,304.7 522.0,303.8 521.0,302.9 520.0,301.9 519.0,301.0 518.0,300.0 517.0,299.0 516.0,298.0 515.0,297.0 514.0,296.0 513.0,295.0 512.0,293.9 511.0,292.9 510.0,291.9 509.0,290.9 508.0,289.9 507.0,289.0 506.0,288.0 505.0,287.1 504.0,286.2 503.0,285.4 502.0,284.5 501.0,283.7 500.0,283.0 499.0,282.3 498.0,281.6 497.0,281.0 496.0,280.4 495.0,279.9 494.0,279.5 493.0,279.1 492.0,278.8 491.0,278.6 490.0,278.5 489.0,278.4 488.0,278.5 487.0,278.7 486.0,279.1 485.0,279.6 484.0,280.2 483.0,281.0 482.0,281.9 481.0,283.0 480.0,284.3 479.0,285.8 478.0,287.4 477.0,289.3 476.0,291.4 475.0,293.7 474.0,296.2 473.0,299.0 472.0,302.0 471.0,305.2 470.0,308.4 469.0,311.3 468.0,313.8 467.0,316.1 466.0,318.2 465.0,320.2 464.0,322.3 463.0,324.4 462.0,326.6 461.0,329.1 460.0,331.8 459.0,334.6 458.0,337.3 457.0,340.1 456.0,342.7 455.0,345.4 454.0,347.9 453.0,350.3 452.0,352.7 451.0,354.9 450.0,357.0 449.0,359.0 448.0,360.8 447.0,362.5 446.0,364.0 445.0,365.4 444.0,366.6 443.0,367.8 442.0,368.8 441.0,369.7 440.0,370.5 439.0,371.3 438.0,371.9 437.0,372.4 436.0,372.8 435.0,373.2 434.0,373.5 433.0,373.7 432.0,373.9 431.0,374.0 430.0,374.1 429.0,374.1 428.0,374.1 427.0,374.1 426.0,374.0 425.0,373.9 424.0,373.8 423.0,373.7 422.0,373.6 421.0,373.5 420.0,373.4 419.0,373.3 418.0,373.2 417.0,373.2 416.0,373.2 415.0,373.2 414.0,373.2 413.0,373.4 412.0,373.5 411.0,373.7 410.0,374.0 409.0,374.3 408.0,374.7 407.0,375.1 406.0,375.6 405.0,376.1 404.0,376.7 403.0,377.3 402.0,378.0 401.0,378.7 400.0,379.4 399.0,380.2 398.0,381.1 397.0,382.0 396.0,382.9 395.0,383.8 394.0,384.8 393.0,385.9 392.0,387.0 391.0,388.1 390.0,389.2 389.0,390.4 388.0,391.6 387.0,392.8 386.0,393.9 385.0,395.0 384.0,396.1 383.0,397.1 382.0,398.0 381.0,398.9 380.0,399.6 379.0,400.2 378.0,400.7 377.0,401.1 376.0,401.3 375.0,401.3 374.0,401.1 373.0,400.8Z" fill="#c14343" fill-opacity="0.25"/>
</g>
<rect x="507.65" y="41.0" width="1.7" height="420.0" fill="#bfc3c7"/>
<rect x="373.5" y="22" width="271" height="19" fill="#f6f7f9"/>
<path d="M373.5,41 V22 M644.5,22 V41" fill="none" stroke="#d5d6d8" stroke-width="1"/>
<path d="M373,22 H645" fill="none" stroke="#c2c3c6" stroke-width="1"/>
<rect x="373.00" y="40.45" width="1.1" height="421.10" fill="#9fa5a9"/>
<rect x="643.35" y="40.45" width="1.3" height="421.10" fill="#9fa5a9"/>
<rect x="373.00" y="40.45" width="271.65" height="1.3" fill="#9fa5a9"/>
<rect x="373.00" y="460.25" width="271.65" height="1.3" fill="#9fa5a9"/>
<rect x="372.50" y="461.50" width="1.4" height="6.5" fill="#c0c4c9"/>
<rect x="417.63" y="461.50" width="1.4" height="6.5" fill="#c0c4c9"/>
<rect x="462.76" y="461.50" width="1.4" height="6.5" fill="#c0c4c9"/>
<rect x="507.89" y="461.50" width="1.4" height="6.5" fill="#c0c4c9"/>
<rect x="553.02" y="461.50" width="1.4" height="6.5" fill="#c0c4c9"/>
<rect x="598.15" y="461.50" width="1.4" height="6.5" fill="#c0c4c9"/>
<rect x="643.28" y="461.50" width="1.4" height="6.5" fill="#c0c4c9"/>
<text transform="translate(372.7,485.5) scale(1,1.07)" text-anchor="middle" class="t13">20:00</text>
<text transform="translate(417.9,485.5) scale(1,1.07)" text-anchor="middle" class="t13">24:00</text>
<text transform="translate(463.0,485.5) scale(1,1.07)" text-anchor="middle" class="t13">4:00</text>
<text transform="translate(508.2,485.5) scale(1,1.07)" text-anchor="middle" class="t13">8:00</text>
<text transform="translate(553.4,485.5) scale(1,1.07)" text-anchor="middle" class="t13">12:00</text>
<text transform="translate(598.5,485.5) scale(1,1.07)" text-anchor="middle" class="t13">16:00</text>
<text transform="translate(643.7,485.5) scale(1,1.07)" text-anchor="middle" class="t13">20:00</text>
<text x="508.3" y="502.5" text-anchor="middle" class="t14">Hour</text>
<text x="508.7" y="35.3" text-anchor="middle" class="t13" style="letter-spacing:-0.2px">Ad libitum</text>
<text x="505.1" y="56.8" text-anchor="end" class="t13 mk">AM Milking</text>
<text x="639.6" y="56.8" text-anchor="end" class="t13 mk">PM Milking</text>
<rect x="52" y="100.05" width="6.5" height="1.1" fill="#c0c4c9"/>
<text transform="translate(47.3,105.8) scale(1,1.08)" text-anchor="end" class="t13">6.4</text>
<rect x="52" y="220.05" width="6.5" height="1.1" fill="#c0c4c9"/>
<text transform="translate(47.3,225.8) scale(1,1.08)" text-anchor="end" class="t13">6.2</text>
<rect x="52" y="340.05" width="6.5" height="1.1" fill="#c0c4c9"/>
<text transform="translate(47.3,345.8) scale(1,1.08)" text-anchor="end" class="t13">6.0</text>
<rect x="52" y="460.05" width="6.5" height="1.1" fill="#c0c4c9"/>
<text transform="translate(47.3,465.8) scale(1,1.08)" text-anchor="end" class="t13">5.8</text>
<text transform="translate(11.5,251) rotate(-90)" text-anchor="middle" class="t14 ax">Average pH</text>
<path d="M232.6,6.1 H281" stroke="#445694" stroke-width="4.7" stroke-dasharray="4.1 4.5" fill="none"/>
<text x="290.3" y="10.3" class="t13">No Hay</text>
<path d="M344.3,6.1 H393" stroke="#A23A2E" stroke-width="4.7" stroke-dasharray="4.1 4.5" fill="none"/>
<text x="402" y="10.3" class="t13">Hay</text>
</svg>
</body></html>
